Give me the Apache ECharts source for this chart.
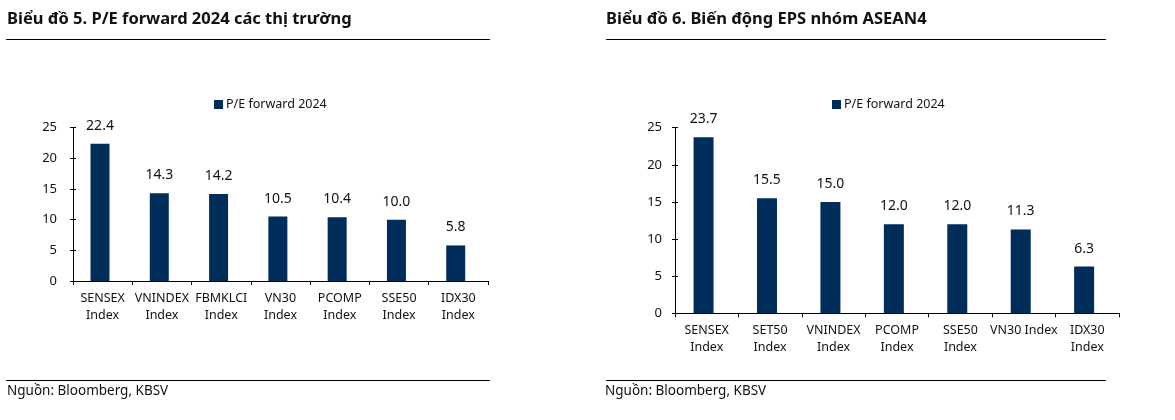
<!DOCTYPE html>
<html>
<head>
<meta charset="utf-8">
<script src="https://cdn.jsdelivr.net/npm/echarts@6/dist/echarts.min.js"></script>
<style>
html,body{margin:0;padding:0;background:#fff;}
#c{width:1175px;height:420px;}
</style>
</head>
<body>
<div id="c"></div>
<script>
const seriesName = 'P/E forward 2024';
const leftTitle = 'Biểu đồ 5. P/E forward 2024 các thị trường';
const rightTitle = 'Biểu đồ 6. Biến động EPS nhóm ASEAN4';
const sourceText = 'Nguồn: Bloomberg, KBSV';
const leftCategories = ['SENSEX\nIndex','VNINDEX\nIndex','FBMKLCI\nIndex','VN30\nIndex','PCOMP\nIndex','SSE50\nIndex','IDX30\nIndex'];
const leftValues = [22.4,14.3,14.2,10.5,10.4,10.0,5.8];
const rightCategories = ['SENSEX\nIndex','SET50\nIndex','VNINDEX\nIndex','PCOMP\nIndex','SSE50\nIndex','VN30 Index','IDX30\nIndex'];
const rightValues = [23.7,15.5,15.0,12.0,12.0,11.3,6.3];
const yTicks = [0,5,10,15,20,25];

const FONT = 'Noto Sans';
const BAR = '#002D5A';
const chart = echarts.init(document.getElementById('c'));

function xAxis(idx, cats){
  return {
    type:'category', gridIndex:idx, data:cats,
    axisLine:{show:true, lineStyle:{color:'#000', width:1}},
    axisTick:{show:true, inside:false, length:4, alignWithLabel:false, lineStyle:{color:'#000'}},
    axisLabel:{color:'#111', fontFamily:FONT, fontSize:12.5, lineHeight:17, margin:9, interval:0},
    splitLine:{show:false}
  };
}
function yAxis(idx, withLabels, margin){
  return {
    type:'value', gridIndex:idx, position:'left', min:yTicks[0], max:yTicks[yTicks.length-1], interval:yTicks[1]-yTicks[0],
    axisLine:{show:withLabels, lineStyle:{color:'#000', width:1}},
    axisTick:{show:true, inside:!withLabels, length:3, lineStyle:{color:'#000'}},
    axisLabel:{show:withLabels, color:'#111', fontFamily:FONT, fontSize:13, margin:margin},
    splitLine:{show:false}
  };
}
function barSeries(idx, vals, w){
  return {
    name:seriesName, type:'bar', xAxisIndex:idx, yAxisIndex:idx*2, data:vals, barWidth:w,
    itemStyle:{color:BAR},
    label:{show:true, position:'top', distance:11, color:'#111', fontFamily:FONT, fontSize:14,
      formatter:p=>p.value.toFixed(1)},
    animation:false
  };
}

const option = {
  animation:false,
  textStyle:{fontFamily:FONT},
  legend:[
    {data:[seriesName], left:209, top:93, itemWidth:9, itemHeight:9, itemGap:4, icon:'rect',
     textStyle:{fontFamily:FONT, fontSize:12.5, color:'#111', padding:[0,0,0,-2]}},
    {data:[seriesName], left:827, top:93, itemWidth:9, itemHeight:9, itemGap:4, icon:'rect',
     textStyle:{fontFamily:FONT, fontSize:12.5, color:'#111', padding:[0,0,0,-2]}}
  ],
  grid:[
    {left:73, right:687, top:127.7, bottom:139},
    {left:675, right:56, top:127.7, bottom:106.7}
  ],
  xAxis:[xAxis(0,leftCategories), xAxis(1,rightCategories)],
  yAxis:[yAxis(0,true,16), yAxis(0,false,0), yAxis(1,true,13), yAxis(1,false,0)],
  series:[
    barSeries(0,leftValues,19),
    {type:'bar', xAxisIndex:0, yAxisIndex:1, data:[], silent:true},
    barSeries(1,rightValues,20),
    {type:'bar', xAxisIndex:1, yAxisIndex:3, data:[], silent:true}
  ],
  graphic:[
    {type:'text', left:7, top:11, style:{text:leftTitle, fontFamily:FONT, fontWeight:'bold', fontSize:16.5, fill:'#111'}},
    {type:'text', left:606, top:11, style:{text:rightTitle, fontFamily:FONT, fontWeight:'bold', fontSize:16.5, fill:'#111'}},
    {type:'line', shape:{x1:6,y1:39.5,x2:490,y2:39.5}, style:{stroke:'#000', lineWidth:1}},
    {type:'line', shape:{x1:606,y1:39.5,x2:1106,y2:39.5}, style:{stroke:'#000', lineWidth:1}},
    {type:'line', shape:{x1:6,y1:380.5,x2:490,y2:380.5}, style:{stroke:'#000', lineWidth:1}},
    {type:'line', shape:{x1:606,y1:380.5,x2:1106,y2:380.5}, style:{stroke:'#000', lineWidth:1}},
    {type:'text', left:7, top:384, style:{text:sourceText, fontFamily:FONT, fontSize:13.5, fill:'#111'}},
    {type:'text', left:605, top:384, style:{text:sourceText, fontFamily:FONT, fontSize:13.5, fill:'#111'}}
  ]
};
chart.setOption(option);
</script>
</body>
</html>
